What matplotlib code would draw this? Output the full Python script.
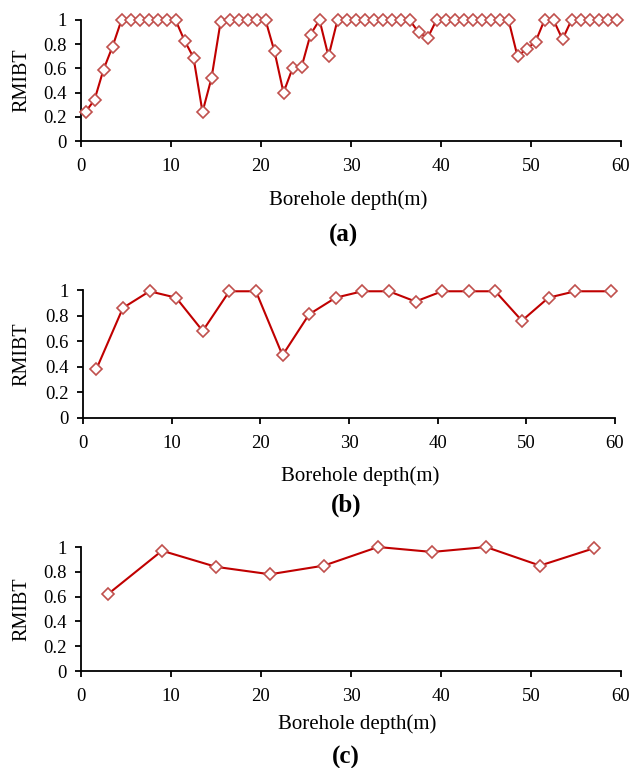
import matplotlib
matplotlib.use("Agg")
import matplotlib.pyplot as plt
import numpy as np

# Panel (a)
depth_a = [0.5 + i for i in range(60)]
rmibt_a = [0.24, 0.34, 0.59, 0.78,
           1.0, 1.0, 1.0, 1.0, 1.0, 1.0, 1.0,
           0.83, 0.69, 0.24, 0.52, 0.98,
           1.0, 1.0, 1.0, 1.0, 1.0,
           0.74, 0.40, 0.60, 0.61, 0.88, 1.0, 0.70,
           1.0, 1.0, 1.0, 1.0, 1.0, 1.0, 1.0, 1.0, 1.0,
           0.90, 0.85,
           1.0, 1.0, 1.0, 1.0, 1.0, 1.0, 1.0, 1.0, 1.0,
           0.70, 0.76, 0.82, 1.0, 1.0, 0.84,
           1.0, 1.0, 1.0, 1.0, 1.0, 1.0]

# Panel (b)
depth_b = [1.5, 4.5, 7.5, 10.5, 13.5, 16.5, 19.5, 22.5, 25.5, 28.5,
           31.5, 34.5, 37.5, 40.5, 43.5, 46.5, 49.5, 52.5, 55.5, 59.5]
rmibt_b = [0.38, 0.86, 0.99, 0.94, 0.68, 0.99, 0.99, 0.49, 0.81, 0.94,
           0.99, 0.99, 0.91, 0.99, 0.99, 0.99, 0.76, 0.94, 0.99, 0.99]

# Panel (c)
depth_c = [3, 9, 15, 21, 27, 33, 39, 45, 51, 57]
rmibt_c = [0.62, 0.97, 0.84, 0.78, 0.85, 1.0, 0.96, 1.0, 0.85, 0.99]

x_ticks = [0, 10, 20, 30, 40, 50, 60]
y_ticks = [0, 0.2, 0.4, 0.6, 0.8, 1.0]
y_ticklabels = ["0", "0.2", "0.4", "0.6", "0.8", "1"]
panel_labels = ["(a)", "(b)", "(c)"]

plt.rcParams['font.family'] = ['Liberation Serif', 'DejaVu Serif']

W, H = 632, 768
fig = plt.figure(figsize=(W / 100, H / 100), dpi=100)

def px_axes(left, right, top, bottom):
    return [left / W, 1 - bottom / H, (right - left) / W, (bottom - top) / H]

rects = [px_axes(81, 621, 20, 141),
         px_axes(83, 615, 290, 418),
         px_axes(81, 621, 547, 671)]
datasets = [(depth_a, rmibt_a), (depth_b, rmibt_b), (depth_c, rmibt_c)]
xlabel_pos = [(348, 200), (360, 476), (357, 724)]
plabel_pos = [(344, 235), (346, 505), (346, 757)]

line_col = '#C00000'
mk_col = '#C0504D'

for i, (rect, (xs, ys)) in enumerate(zip(rects, datasets)):
    ax = fig.add_axes(rect)
    ax.plot(xs, ys, color=line_col, lw=1.5, marker='D', markersize=6,
            markerfacecolor='white', markeredgecolor=mk_col, markeredgewidth=1.2,
            clip_on=False, zorder=3)
    ax.set_xlim(0, 60)
    ax.set_ylim(0, 1)
    ax.set_xticks(x_ticks)
    ax.set_yticks(y_ticks)
    ax.set_yticklabels(y_ticklabels)
    for s in ['top', 'right']:
        ax.spines[s].set_visible(False)
    for s in ['left', 'bottom']:
        ax.spines[s].set_linewidth(1.3)
        ax.spines[s].set_color('black')
    ax.tick_params(axis='both', direction='out', length=4, width=1.3,
                   labelsize=13.5, colors='black')
    ax.tick_params(axis='y', pad=6)
    ax.tick_params(axis='x', pad=8)
    ax.set_ylabel('RMIBT', fontsize=14.5)
    ax.yaxis.set_label_coords((31 / W - rect[0]) / rect[2], 0.5)
    fig.text(xlabel_pos[i][0] / W, 1 - xlabel_pos[i][1] / H, 'Borehole depth(m)',
             ha='center', va='center', fontsize=15)
    fig.text(plabel_pos[i][0] / W, 1 - plabel_pos[i][1] / H, panel_labels[i],
             ha='center', va='center', fontsize=18, fontweight='bold')

fig.savefig('out.png', dpi=100)
